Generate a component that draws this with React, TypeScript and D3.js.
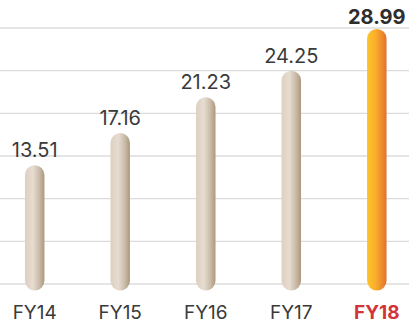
import React from "react";
import * as d3 from "d3";

// Fiscal-year values
const years: string[] = ["FY14", "FY15", "FY16", "FY17", "FY18"];
const values: number[] = [13.51, 17.16, 21.23, 24.25, 28.99];
const highlightYear = "FY18";

// Value at the top gridline and number of grid intervals
const yMax = 29.1;
const gridIntervals = 6;

const W = 409;
const H = 323;
const baseline = 284;
const top = 28;
const barWidth = 19.5;
const barTail = 6.5; // rounded foot below the baseline
const labelGap = 8;
const font = "Inter, 'Noto Sans', sans-serif";

export default function App() {
  const x = d3.scalePoint<string>().domain(years).range([34.7, 376.8]);
  const y = d3.scaleLinear().domain([0, yMax]).range([baseline, top]);
  const grid = d3.range(gridIntervals + 1).map((i) => (i * yMax) / gridIntervals);

  return (
    <svg
      width={W}
      height={H}
      viewBox={`0 0 ${W} ${H}`}
      style={{ position: "fixed", left: 0, top: 0, background: "#fff" }}
    >
      <defs>
        <linearGradient id="barBeige" x1="0" x2="1" y1="0" y2="0">
          <stop offset="0" stopColor="#ddd0c1" />
          <stop offset="0.4" stopColor="#e6dcd0" />
          <stop offset="0.7" stopColor="#cdbfad" />
          <stop offset="1" stopColor="#ad987e" />
        </linearGradient>
        <linearGradient id="barOrange" x1="0" x2="1" y1="0" y2="0">
          <stop offset="0" stopColor="#fdc52a" />
          <stop offset="0.45" stopColor="#f9ad2b" />
          <stop offset="1" stopColor="#e3702f" />
        </linearGradient>
      </defs>

      {grid.map((g) => (
        <line
          key={g}
          x1={0}
          x2={W}
          y1={y(g)}
          y2={y(g)}
          stroke="#dcdcdc"
          strokeWidth={1.4}
        />
      ))}

      {years.map((yr, i) => {
        const cx = x(yr) as number;
        const hi = yr === highlightYear;
        const yTop = y(values[i]);
        return (
          <g key={yr}>
            <rect
              x={cx - barWidth / 2}
              y={yTop}
              width={barWidth}
              height={baseline + barTail - yTop}
              rx={barWidth / 2}
              ry={barWidth / 2}
              fill={hi ? "url(#barOrange)" : "url(#barBeige)"}
            />
            <text
              x={cx}
              y={Math.max(yTop - labelGap, 24)}
              textAnchor="middle"
              fontFamily={font}
              fontSize={20}
              fontWeight={hi ? 700 : 400}
              fill={hi ? "#2e2e2e" : "#3a3a3a"}
            >
              {values[i].toFixed(2)}
            </text>
            <text
              x={cx}
              y={319}
              textAnchor="middle"
              fontFamily={font}
              fontSize={19}
              fontWeight={hi ? 700 : 400}
              fill={hi ? "#d2343a" : "#3a3a3a"}
            >
              {yr}
            </text>
          </g>
        );
      })}
    </svg>
  );
}
